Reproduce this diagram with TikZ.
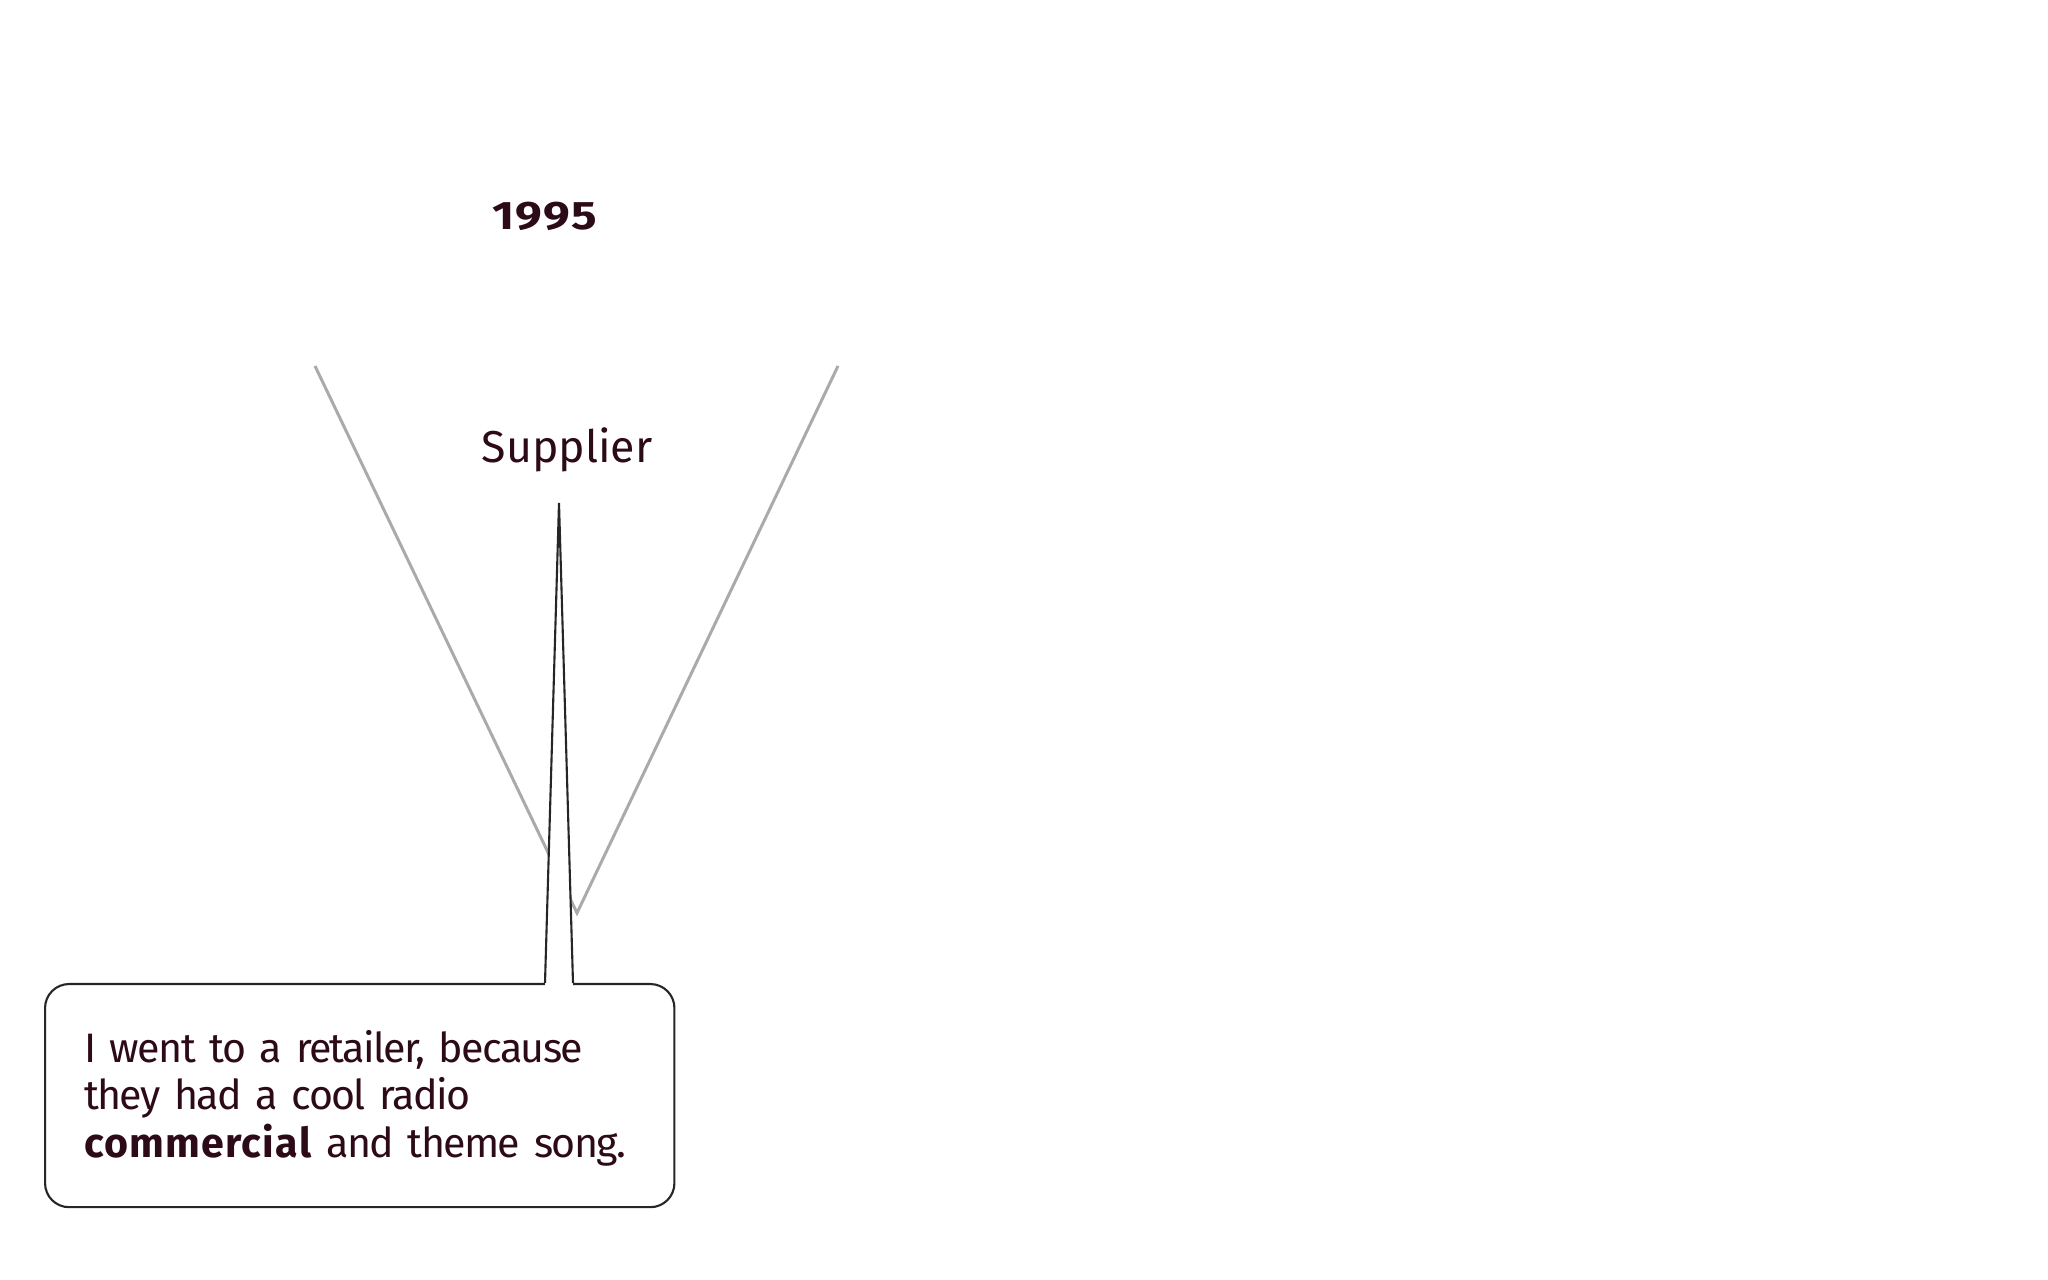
\documentclass[tikz,border=0pt]{standalone}
\usepackage{fontspec}
\setmainfont{Fira Sans}
\newfontfamily\quotefont{Fira Sans}[LetterSpace=-4,BoldFeatures={LetterSpace=3}]
\newfontfamily\yearfont{Fira Sans}[FakeStretch=1.2,BoldFeatures={FakeStretch=1.2,LetterSpace=3}]
\usepackage{tikz}

\definecolor{ink}{RGB}{45,10,24}
\definecolor{vgray}{RGB}{170,170,170}

\begin{document}
\begin{tikzpicture}
[x=0.01cm,y=-0.01cm,
 label/.style={text=ink,inner sep=0pt},
 vline/.style={vgray,line width=0.85pt},
 bubble/.style={draw=black!85,line width=0.6pt,fill=white,rounded corners=0.24cm}]
	
	\useasboundingbox (0,0) rectangle (2048,1280);
	%\draw[gray,step=100] (0,0) grid (2048,1280);
	
	\node[label,anchor=base,font=\yearfont\fontsize{11.3}{13}\selectfont\bfseries] (year) at (545,230) 
	{1995};
	\node[label,anchor=base,font=\fontsize{12.7}{15}\selectfont] (supplier) at (567,463) 
	{Supplier};
	
	\coordinate (vleft) at (315,366);
	\coordinate (vright) at (838,366);
	\coordinate (vbottom) at (577,913);
	\draw[vline] (vleft) -- (vbottom) -- (vright);
	
	\node[bubble,anchor=north west,minimum width=6.29cm,minimum height=2.23cm,
		text width=5.51cm,inner xsep=0.39cm,align=left,text=ink,
		font=\quotefont\fontsize{11.7}{13.5}\selectfont] (quote) at (44,983) 
	{\rule{0pt}{0.9em}I went to a retailer, because\\
	they had a cool radio\\
	\textbf{commercial} and theme song.};
	
	\coordinate (tip) at (559,503);
	\coordinate (tailL) at (545,983);
	\coordinate (tailR) at (573,983);
	\fill[white] ([yshift=-0.03cm]tailL) -- (tip) -- ([yshift=-0.03cm]tailR) -- cycle;
	\draw[black!85,line width=0.6pt] (tailL) -- (tip) -- (tailR);
\end{tikzpicture}
\end{document}
